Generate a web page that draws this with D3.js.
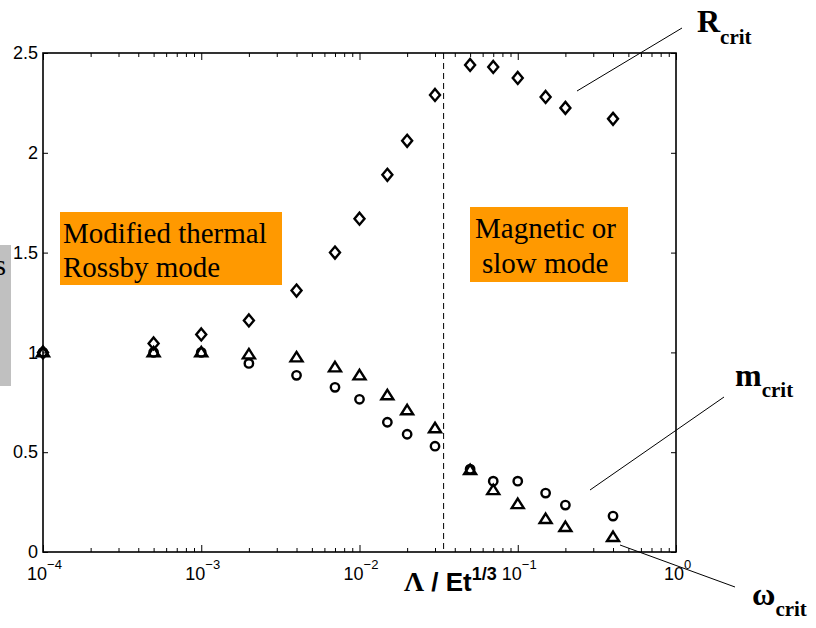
<!DOCTYPE html>
<html>
<head>
<meta charset="utf-8">
<script src="https://cdn.jsdelivr.net/npm/d3@7"></script>
<style>
  body { margin: 0; background: #fff; }
  svg { display: block; }
  .tick text { font-family: "Liberation Sans", Arial, sans-serif; }
</style>
</head>
<body>
<svg id="vis"></svg>
<script>
const WIDTH = 816;
const HEIGHT = 628;
const ORANGE = "#ff9900";

// x values (Lambda / Et^1/3) and the three critical quantities
const lambdaVals = [1e-4, 5e-4, 1e-3, 2e-3, 4e-3, 7e-3, 1e-2, 1.5e-2, 2e-2, 3e-2, 5e-2, 7e-2, 1e-1, 1.5e-1, 2e-1, 4e-1];
const rCrit = [1.0, 1.045, 1.09, 1.16, 1.31, 1.50, 1.67, 1.89, 2.06, 2.29, 2.44, 2.43, 2.375, 2.28, 2.225, 2.17];
const mCrit = [1.0, 1.0, 1.0, 0.945, 0.885, 0.825, 0.765, 0.65, 0.59, 0.53, 0.415, 0.355, 0.355, 0.295, 0.235, 0.18];
const omegaCrit = [1.0, 1.0, 1.0, 0.99, 0.975, 0.925, 0.885, 0.785, 0.71, 0.62, 0.41, 0.31, 0.24, 0.165, 0.125, 0.075];

const yTicks = [0, 0.5, 1, 1.5, 2, 2.5];
const yTickLabels = ["0", "0.5", "1", "1.5", "2", "2.5"];
const xMajor = [1e-4, 1e-3, 1e-2, 1e-1, 1];
const xExponents = ["\u22124", "\u22123", "\u22122", "\u22121", "0"];
const boundary = 0.034;

const svg = d3.select("#vis")
    .attr("width", WIDTH)
    .attr("height", HEIGHT);

const x = d3.scaleLog().domain([1e-4, 1]).range([43, 676]);
const y = d3.scaleLinear().domain([0, 2.5]).range([552, 53]);

// clipped grey label at the far left
svg.append("rect")
    .attr("x", 0).attr("y", 245)
    .attr("width", 11).attr("height", 141)
    .attr("fill", "#c0c0c0");
svg.append("text")
    .attr("x", 6).attr("y", 275)
    .attr("text-anchor", "end")
    .style("font-family", "Liberation Serif, Times New Roman, serif")
    .style("font-size", "29px")
    .text("s");

// minor ticks for log axis
let xMinor = [];
for (let e = -4; e < 0; e++) {
    for (let k = 2; k <= 9; k++) xMinor.push(k * Math.pow(10, e));
}

function styleAxis(g) {
    g.select(".domain").remove();
    g.selectAll(".tick line").attr("stroke", "#000").attr("stroke-width", 1);
}

svg.append("g")
    .attr("transform", "translate(0," + y(0) + ")")
    .call(d3.axisBottom(x).tickValues(xMinor).tickSize(-4).tickFormat(""))
    .call(styleAxis);
svg.append("g")
    .attr("transform", "translate(0," + y(2.5) + ")")
    .call(d3.axisTop(x).tickValues(xMinor).tickSize(-4).tickFormat(""))
    .call(styleAxis);
svg.append("g")
    .attr("transform", "translate(0," + y(2.5) + ")")
    .call(d3.axisTop(x).tickValues(xMajor).tickSize(-7).tickFormat(""))
    .call(styleAxis);

const xAxis = svg.append("g")
    .attr("transform", "translate(0," + y(0) + ")")
    .call(d3.axisBottom(x).tickValues(xMajor).tickSize(-7).tickFormat(""))
    .call(styleAxis);
xAxis.selectAll(".tick").each(function(d, i) {
    const t = d3.select(this).append("text")
        .attr("fill", "#000")
        .attr("x", 1)
        .attr("y", 28)
        .attr("text-anchor", "middle")
        .style("font-size", "18px");
    t.append("tspan").text("10");
    t.append("tspan").attr("dy", -11).style("font-size", "13px").text(xExponents[i]);
});

const yAxis = svg.append("g")
    .attr("transform", "translate(" + x(1e-4) + ",0)")
    .call(d3.axisLeft(y).tickValues(yTicks).tickSize(-5).tickPadding(5)
        .tickFormat((d, i) => yTickLabels[i]))
    .call(styleAxis);
yAxis.selectAll(".tick text")
    .attr("fill", "#000")
    .style("font-size", "18px");

svg.append("g")
    .attr("transform", "translate(" + x(1) + ",0)")
    .call(d3.axisRight(y).tickValues(yTicks).tickSize(-5).tickFormat(""))
    .call(styleAxis);

// plot box
svg.append("rect")
    .attr("x", x(1e-4)).attr("y", y(2.5))
    .attr("width", x(1) - x(1e-4)).attr("height", y(0) - y(2.5))
    .attr("fill", "none")
    .attr("stroke", "#000")
    .attr("stroke-width", 1.6);

// regime boundary
svg.append("line")
    .attr("x1", x(boundary)).attr("x2", x(boundary))
    .attr("y1", y(2.5)).attr("y2", y(0))
    .attr("stroke", "#000")
    .attr("stroke-width", 1)
    .attr("stroke-dasharray", "6,4");

// regime boxes
function modeBox(x0, y0, w, h, lines, tx, baselines) {
    svg.append("rect")
        .attr("x", x0).attr("y", y0)
        .attr("width", w).attr("height", h)
        .attr("fill", ORANGE);
    lines.forEach((s, i) => {
        svg.append("text")
            .attr("x", tx[i]).attr("y", baselines[i])
            .style("font-family", "Liberation Serif, Times New Roman, serif")
            .style("font-size", "29px")
            .text(s);
    });
}
modeBox(60, 212, 222, 73, ["Modified thermal", "Rossby mode"], [63, 63], [243, 277]);
modeBox(470, 207, 158, 75, ["Magnetic or", "slow mode"], [475, 482], [238, 273]);

const pts = lambdaVals.map((l, i) => ({l: l, r: rCrit[i], m: mCrit[i], w: omegaCrit[i]}));

function diamond(cx, cy) {
    return `M${cx},${cy - 6}L${cx + 5},${cy}L${cx},${cy + 6}L${cx - 5},${cy}Z`;
}
function triangle(cx, cy) {
    return `M${cx},${cy - 5.5}L${cx + 6},${cy + 4}L${cx - 6},${cy + 4}Z`;
}

svg.selectAll(".circ").data(pts).join("circle")
    .attr("class", "circ")
    .attr("cx", d => x(d.l))
    .attr("cy", d => y(d.m))
    .attr("r", 4.2)
    .attr("fill", "none")
    .attr("stroke", "#000")
    .attr("stroke-width", 2.4);

svg.selectAll(".tri").data(pts).join("path")
    .attr("class", "tri")
    .attr("d", d => triangle(x(d.l), y(d.w)))
    .attr("fill", "none")
    .attr("stroke", "#000")
    .attr("stroke-width", 2.4)
    .attr("stroke-linejoin", "miter");

svg.selectAll(".dia").data(pts).join("path")
    .attr("class", "dia")
    .attr("d", d => diamond(x(d.l), y(d.r)))
    .attr("fill", "none")
    .attr("stroke", "#000")
    .attr("stroke-width", 2.4);

// annotations
const notes = [
    {x1: 577, y1: 91, x2: 682, y2: 28, main: "R", mx: 697, my: 32, sub: 44},
    {x1: 590, y1: 490, x2: 724, y2: 397, main: "m", mx: 735, my: 386, sub: 397},
    {x1: 620, y1: 545, x2: 735, y2: 587, main: "\u03c9", mx: 752, my: 605, sub: 616}
];
notes.forEach(n => {
    svg.append("line")
        .attr("x1", n.x1).attr("y1", n.y1)
        .attr("x2", n.x2).attr("y2", n.y2)
        .attr("stroke", "#000")
        .attr("stroke-width", 1);
    const t = svg.append("text")
        .attr("x", n.mx).attr("y", n.my)
        .style("font-family", "Liberation Serif, Times New Roman, serif")
        .style("font-weight", "bold")
        .style("font-size", "32px");
    t.append("tspan").text(n.main);
    t.append("tspan").attr("dy", n.sub - n.my).style("font-size", "21px").text("crit");
});

// axis title
const title = svg.append("text")
    .attr("x", 404).attr("y", 591)
    .style("font-weight", "bold")
    .style("font-size", "26px");
title.append("tspan")
    .style("font-family", "Liberation Serif, Times New Roman, serif")
    .style("font-size", "28px")
    .text("\u039b");
title.append("tspan")
    .style("font-family", "Liberation Sans, Arial, sans-serif")
    .text(" / Et");
title.append("tspan")
    .attr("dy", -11)
    .style("font-family", "Liberation Sans, Arial, sans-serif")
    .style("font-size", "18px")
    .text("1/3");
</script>
</body>
</html>
